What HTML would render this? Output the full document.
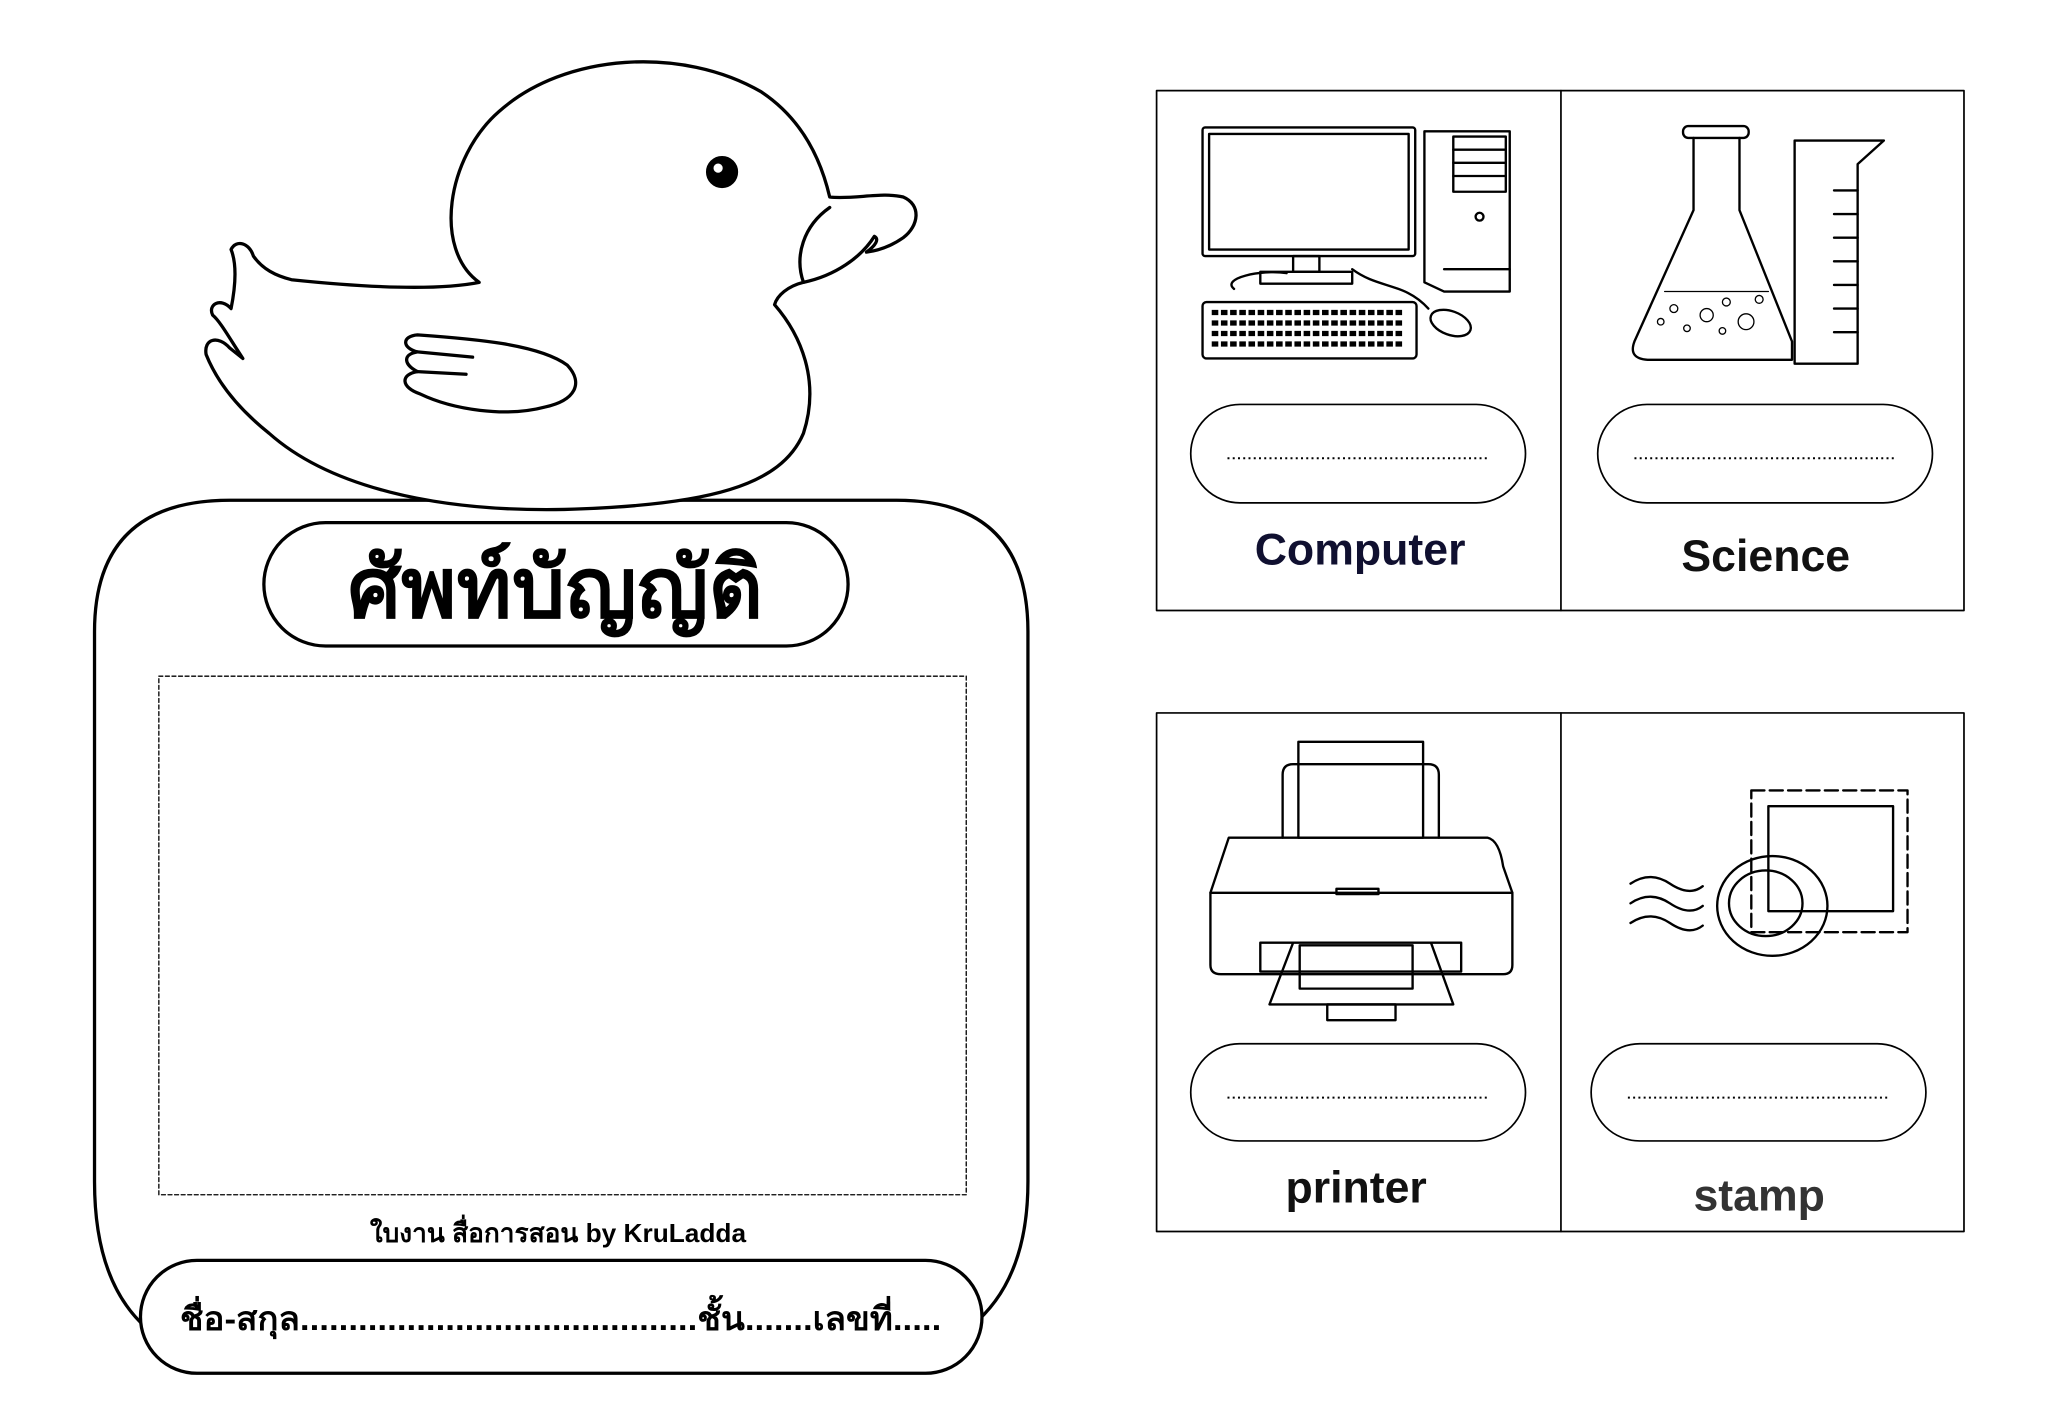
<!DOCTYPE html>
<html><head><meta charset="utf-8"><style>
html,body{margin:0;padding:0;background:#fff;width:2048px;height:1418px;overflow:hidden}
svg{display:block}
text{font-family:"Liberation Sans","Noto Sans CJK SC",sans-serif}
</style></head><body>
<svg width="2048" height="1418" viewBox="0 0 1560 1080" xmlns="http://www.w3.org/2000/svg">
<g fill="none" stroke="#000" stroke-width="2.5" stroke-linejoin="round" stroke-linecap="round">
<!-- outer box -->
<path d="M175,381 H683 Q783,381 783,481 V900 Q783,975 740,1010 L110,1010 Q72,975 72,900 V481 Q72,381 175,381 Z" fill="#fff"/>
<!-- duck -->
<path fill="#fff" d="M365,215 C330,190 340,120 380,85 C430,40 520,35 580,70 C610,90 625,120 632,150 C650,152 672,146 688,150 C702,156 700,172 688,181 C678,188 668,191 660,192 C667,187 670,182 666,180 C656,196 636,210 612,215 C600,218 592,225 590,232 C610,255 625,290 612,330 C595,370 540,385 430,388 C330,390 250,370 205,330 C180,310 165,290 157,270 C155,258 166,255 175,265 L185,273 C175,258 168,245 162,240 C158,232 168,226 176,235 C180,215 180,200 176,190 C180,182 190,185 193,195 C200,205 210,210 222,213 C270,218 330,222 365,215 Z"/>
<path d="M632,158 C612,172 605,195 612,215"/>
<path fill="#fff" d="M318,255 C360,258 410,262 432,278 C445,292 438,305 415,310 C385,318 345,312 320,300 C305,295 305,285 318,283 C308,278 306,270 318,268 C306,265 306,256 318,255 Z"/>
<path d="M318,268 L360,272 M318,283 L355,285"/>
<circle cx="550" cy="131" r="11" fill="#000"/>
<circle cx="547" cy="128" r="3.5" fill="#fff" stroke="none"/>
<!-- title pill -->
<rect x="201" y="398" width="445" height="94" rx="47" fill="#fff"/>
<!-- dashed area -->
<rect x="121" y="515" width="615" height="395" stroke-width="1" stroke-dasharray="3,2"/>
<!-- name pill -->
<rect x="107" y="960" width="641" height="86" rx="43" fill="#fff"/>
<!-- cards -->
<rect x="881" y="69" width="615" height="396" stroke-width="1.3"/>
<line x1="1189" y1="69" x2="1189" y2="465" stroke-width="1.3"/>
<rect x="881" y="543" width="615" height="395" stroke-width="1.3"/>
<line x1="1189" y1="543" x2="1189" y2="938" stroke-width="1.3"/>
<g stroke-width="1.3">
<rect x="907" y="308" width="255" height="75" rx="37.5"/>
<rect x="1217" y="308" width="255" height="75" rx="37.5"/>
<rect x="907" y="795" width="255" height="74" rx="37"/>
<rect x="1212" y="795" width="255" height="74" rx="37"/>
</g>
<g stroke-width="1.5" stroke-dasharray="1.5,2.5" stroke-linecap="butt">
<line x1="935" y1="349" x2="1135" y2="349"/><line x1="1245" y1="349" x2="1445" y2="349"/>
<line x1="935" y1="836" x2="1135" y2="836"/><line x1="1240" y1="836" x2="1440" y2="836"/>
</g>
<!-- computer -->
<g stroke-width="1.8">
<rect x="916" y="97" width="162" height="98" rx="2"/><rect x="921" y="102" width="152" height="88"/>
<rect x="985" y="195" width="20" height="12"/><rect x="960" y="207" width="70" height="9"/>
<path d="M1085,100 H1150 V222 H1100 L1085,215 Z"/><rect x="1107" y="104" width="40" height="42"/>
<line x1="1107" y1="114" x2="1147" y2="114"/><line x1="1107" y1="124" x2="1147" y2="124"/><line x1="1107" y1="134" x2="1147" y2="134"/>
<circle cx="1127" cy="165" r="3"/><line x1="1100" y1="205" x2="1150" y2="205"/>
<path d="M940,220 C930,212 960,205 980,208 M1030,205 C1050,220 1070,215 1088,235"/>
<rect x="916" y="230" width="163" height="43" rx="3"/>
<path d="M923,238 H1070 M923,246 H1070 M923,254 H1070 M923,262 H1070" stroke-width="4" stroke-dasharray="5,2" stroke-linecap="butt"/>
<ellipse cx="1105" cy="246" rx="16" ry="9" transform="rotate(20 1105 246)"/>
</g>
<!-- flask & beaker -->
<g stroke-width="1.8">
<rect x="1282" y="96" width="50" height="9" rx="4"/>
<path d="M1290,105 V160 L1245,260 Q1240,273 1255,274 H1365 V260 L1325,160 V105"/>
<path d="M1268,222 H1347" stroke-width="1"/>
<circle cx="1300" cy="240" r="5" stroke-width="1"/><circle cx="1330" cy="245" r="6" stroke-width="1"/><circle cx="1275" cy="235" r="3" stroke-width="1"/><circle cx="1315" cy="230" r="3" stroke-width="1"/><circle cx="1340" cy="228" r="3" stroke-width="1"/><circle cx="1265" cy="245" r="2.5" stroke-width="1"/><circle cx="1285" cy="250" r="2.5" stroke-width="1"/><circle cx="1312" cy="252" r="2.5" stroke-width="1"/>
<path d="M1367,277 V107 H1435 L1415,125 V277 Z"/>
<path d="M1397,145 H1415 M1397,163 H1415 M1397,181 H1415 M1397,199 H1415 M1397,217 H1415 M1397,235 H1415 M1397,253 H1415"/>
</g>
<!-- printer -->
<g stroke-width="1.8">
<path d="M977,638 V590 Q977,582 985,582 H1088 Q1096,582 1096,590 V638"/>
<rect x="989" y="565" width="95" height="73"/>
<path d="M936,638 H1133 Q1142,640 1145,660 L1152,680 V735 Q1152,742 1145,742 H930 Q922,742 922,735 V680 L936,638 Z"/>
<line x1="922" y1="680" x2="1152" y2="680"/>
<rect x="1018" y="677" width="32" height="4"/>
<rect x="960" y="718" width="153" height="22"/>
<path d="M985,718 L967,765 H1107 L1090,718"/>
<rect x="990" y="720" width="86" height="33"/>
<rect x="1011" y="765" width="52" height="12"/>
</g>
<!-- stamp -->
<g stroke-width="1.8">
<path d="M1334,602 H1453 V710 H1334 Z" stroke-dasharray="10,4"/>
<rect x="1347" y="614" width="95" height="80"/>
<ellipse cx="1350" cy="690" rx="42" ry="38"/>
<ellipse cx="1345" cy="688" rx="28" ry="25"/>
<path d="M1242,673 Q1257,663 1272,673 T1297,675 M1242,688 Q1257,678 1272,688 T1297,690 M1242,703 Q1257,693 1272,703 T1297,705"/>
</g>
</g>
<!-- texts -->
<text x="423" y="470" font-size="64" font-weight="bold" text-anchor="middle" fill="#000">ศัพท์บัญญัติ</text>
<text x="425" y="946" font-size="20" font-weight="bold" text-anchor="middle" fill="#000">ใบงาน สื่อการสอน by KruLadda</text>
<text x="137" y="1013" font-size="25" font-weight="bold" fill="#000" textLength="580" lengthAdjust="spacingAndGlyphs">ชื่อ-สกุล.........................................ชั้น.......เลขที่.....</text>
<g font-size="34" font-weight="bold" text-anchor="middle">
<text x="1036" y="430" fill="#101030">Computer</text>
<text x="1345" y="435" fill="#111">Science</text>
<text x="1033" y="916" fill="#111">printer</text>
<text x="1340" y="922" fill="#333">stamp</text>
</g>
</svg>
</body></html>
